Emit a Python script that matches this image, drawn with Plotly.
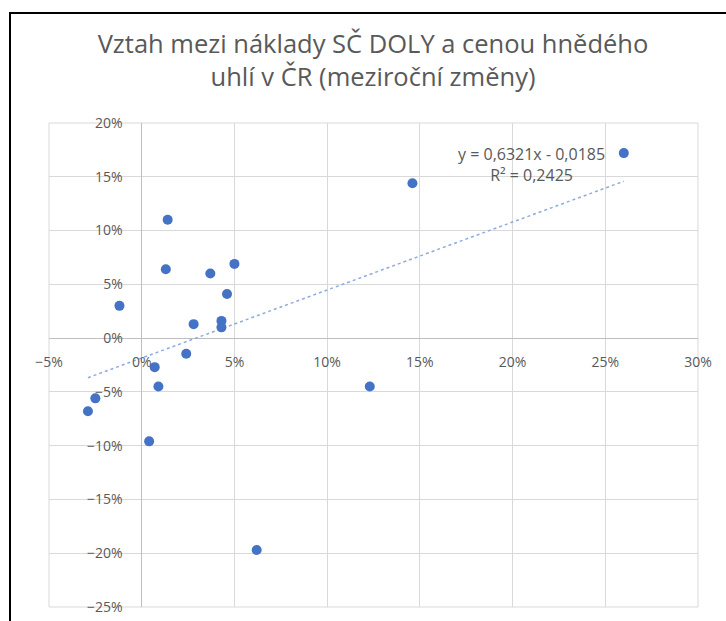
import plotly.graph_objects as go

# Year-on-year changes (fractions)
naklady_x = [0.260, 0.146, 0.014, 0.013, 0.037, 0.050, 0.046, -0.012, 0.028, 0.043,
             0.043, 0.024, 0.007, 0.009, 0.123, -0.025, -0.029, 0.004, 0.062]
cena_y = [0.172, 0.144, 0.110, 0.064, 0.060, 0.069, 0.041, 0.030, 0.013, 0.016,
          0.010, -0.0145, -0.027, -0.045, -0.045, -0.056, -0.068, -0.096, -0.197]

slope = 0.6321
intercept = -0.0185
eq_text = "y = 0,6321x - 0,0185<br>R² = 0,2425"

x_ticks = [-0.05, 0.0, 0.05, 0.10, 0.15, 0.20, 0.25, 0.30]
y_ticks = [-0.25, -0.20, -0.15, -0.10, -0.05, 0.0, 0.05, 0.10, 0.15, 0.20]
x_range = [-0.05, 0.30]
y_range = [-0.25, 0.20]

title_text = "Vztah mezi náklady SČ DOLY a cenou hnědého<br>uhlí v ČR (meziroční změny)"

W, H = 726, 621
L, R, T, B = 49, 28, 123, 14
PW, PH = W - L - R, H - T - B

FONT = "Open Sans"
GRID = "#d9d9d9"
TXT = "#595959"
BLUE = "#4472C4"

fig = go.Figure()

tx = [min(naklady_x), max(naklady_x)]
ty = [slope * v + intercept for v in tx]
fig.add_trace(go.Scatter(x=tx, y=ty, mode="lines",
                         line=dict(color="#8faadc", width=1.5, dash="dot"),
                         hoverinfo="skip", showlegend=False))
fig.add_trace(go.Scatter(x=naklady_x, y=cena_y, mode="markers",
                         marker=dict(color=BLUE, size=10),
                         showlegend=False))

x_pos = (0 - x_range[0]) / (x_range[1] - x_range[0])
y_pos = (0 - y_range[0]) / (y_range[1] - y_range[0])

fig.update_layout(
    width=W, height=H,
    margin=dict(l=L, r=R, t=T, b=B, autoexpand=False),
    paper_bgcolor="white", plot_bgcolor="white",
    font=dict(family=FONT, color=TXT),
    title=dict(text=title_text, x=373 / W, xanchor="center",
               y=1 - 53 / H, yanchor="middle", yref="container",
               font=dict(family=FONT, size=25.5, color=TXT)),
    xaxis=dict(range=x_range, tickvals=x_ticks, tickformat=".0%",
               showgrid=True, gridcolor=GRID, gridwidth=1,
               zeroline=True, zerolinecolor="#bfbfbf", zerolinewidth=1,
               showline=False, anchor="free", position=y_pos,
               ticks="", ticklabelstandoff=14,
               tickfont=dict(family=FONT, size=14, color=TXT)),
    yaxis=dict(range=y_range, tickvals=y_ticks, tickformat=".0%",
               showgrid=True, gridcolor=GRID, gridwidth=1,
               zeroline=True, zerolinecolor="#bfbfbf", zerolinewidth=1,
               showline=False, anchor="free", position=x_pos,
               ticks="", ticklabelstandoff=19,
               tickfont=dict(family=FONT, size=14, color=TXT)),
    annotations=[dict(text=eq_text, x=0.21, y=0.161, xref="x", yref="y",
                      showarrow=False, align="center",
                      font=dict(family=FONT, size=16, color=TXT))],
    shapes=[
        dict(type="rect", xref="x domain", yref="y domain", x0=0, x1=1, y0=0, y1=1,
             line=dict(color=GRID, width=1), layer="below"),
        dict(type="rect", xref="paper", yref="paper",
             x0=(10 - L) / PW, x1=1.2, y0=-0.2, y1=(H - B - 13) / PH,
             line=dict(color="black", width=2)),
    ],
)

fig.write_html("out.html", config={"displayModeBar": False},
               post_script="document.body.style.margin='0px';document.body.style.overflow='hidden';")
